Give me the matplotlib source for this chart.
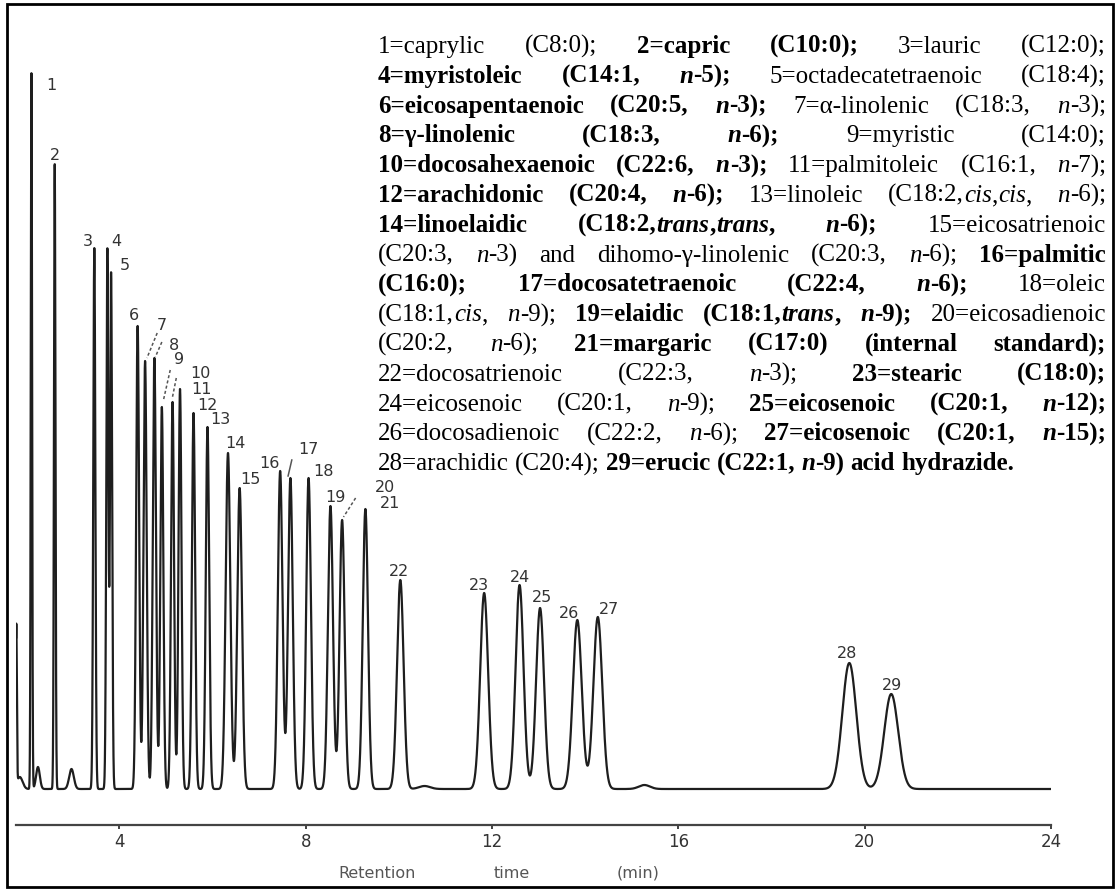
import numpy as np
import matplotlib
matplotlib.use('Agg')
import matplotlib.pyplot as plt
from matplotlib.transforms import IdentityTransform
from matplotlib.font_manager import FontProperties
from matplotlib.patches import Rectangle

# peaks 1..29: retention time (min), height above baseline, peak sigma (min)
peak_ids = list(range(1, 30))
peak_rt = [2.11, 2.61, 3.46, 3.74, 3.82, 4.39, 4.55, 4.75, 4.91, 5.14,
           5.30, 5.59, 5.89, 6.33, 6.58, 7.45, 7.67, 8.06, 8.53, 8.78,
           9.28, 10.03, 11.83, 12.59, 13.03, 13.83, 14.27, 19.67, 20.57]
peak_height = [716, 625, 541, 540, 516, 463, 428, 431, 382, 387,
               400, 376, 362, 336, 301, 318, 311, 311, 283, 269,
               280, 209, 196, 204, 181, 169, 172, 126, 95]
peak_sigma = [0.014, 0.016, 0.022, 0.022, 0.022, 0.032, 0.034, 0.034, 0.032, 0.032,
              0.032, 0.034, 0.036, 0.05, 0.05, 0.05, 0.05, 0.05, 0.054, 0.054,
              0.056, 0.07, 0.085, 0.085, 0.085, 0.095, 0.095, 0.15, 0.15]

# small unlabelled bumps (solvent front, early artefacts, late bumps)
minor_rt = [1.785, 1.86, 2.25, 2.97, 10.55, 15.27]
minor_height = [160, 12, 22, 20, 3, 4]
minor_sigma = [0.012, 0.06, 0.04, 0.05, 0.12, 0.12]

# peak number label positions (rt, signal)
label_rt = [2.54, 2.61, 3.31, 3.94, 4.12, 4.31, 4.91, 5.17, 5.28, 5.73,
            5.77, 5.88, 6.16, 6.48, 6.82, 7.22, 8.06, 8.38, 8.63, 9.71,
            9.82, 10.01, 11.71, 12.61, 13.08, 13.65, 14.50, 19.63, 20.58]
label_h = [704, 633, 548, 548, 523, 473, 463, 444, 430, 415,
           400, 384, 370, 346, 310, 326, 340, 318, 292, 302,
           285, 217, 204, 211, 191, 176, 180, 135, 103]

# leader lines from label to peak: (rt0, h0, rt1, h1, dashed)
leaders = [(4.81, 456, 4.59, 431, True), (4.91, 447, 4.77, 432, True),
           (5.09, 419, 4.94, 388, True), (5.22, 411, 5.13, 390, True),
           (7.70, 329, 7.62, 313, False), (9.07, 291, 8.81, 272, True)]

x_ticks = [4, 8, 12, 16, 20, 24]

legend_lines = [
    "1=caprylic (C8:0); *2=capric (C10:0);* 3=lauric (C12:0);",
    "*4=myristoleic (C14:1, _n_-5);* 5=octadecatetraenoic (C18:4);",
    "*6=eicosapentaenoic (C20:5, _n_-3);* 7=α-linolenic (C18:3, _n_-3);",
    "*8=γ-linolenic (C18:3, _n_-6);* 9=myristic (C14:0);",
    "*10=docosahexaenoic (C22:6, _n_-3);* 11=palmitoleic (C16:1, _n_-7);",
    "*12=arachidonic (C20:4, _n_-6);* 13=linoleic (C18:2,_cis_,_cis_, _n_-6);",
    "*14=linoelaidic (C18:2,_trans_,_trans_, _n_-6);* 15=eicosatrienoic",
    "(C20:3, _n_-3) and dihomo-γ-linolenic (C20:3, _n_-6); *16=palmitic*",
    "*(C16:0); 17=docosatetraenoic (C22:4, _n_-6);* 18=oleic",
    "(C18:1,_cis_, _n_-9); *19=elaidic (C18:1,_trans_, _n_-9);* 20=eicosadienoic",
    "(C20:2, _n_-6); *21=margaric (C17:0) (internal standard);*",
    "22=docosatrienoic (C22:3, _n_-3); *23=stearic (C18:0);*",
    "24=eicosenoic (C20:1, _n_-9); *25=eicosenoic (C20:1, _n_-12);*",
    "26=docosadienoic (C22:2, _n_-6); *27=eicosenoic (C20:1, _n_-15);*",
    "28=arachidic (C20:4); *29=erucic (C22:1, _n_-9) acid hydrazide.*",
]

W, H = 1115, 892
fig = plt.figure(figsize=(W / 100, H / 100), dpi=100)

# chromatogram
t = np.linspace(1.78, 24.0, 24000)
sig = np.zeros_like(t)
for rt, h, s in zip(peak_rt + minor_rt, peak_height + minor_height, peak_sigma + minor_sigma):
    sig += h * np.exp(-0.5 * ((t - rt) / s) ** 2)

ax = fig.add_axes([15.6 / W, (H - 825) / H, (1051 - 15.6) / W, 785 / H])
ax.plot(t, sig, color='#1e1e1e', lw=1.6)
ax.set_xlim(1.77, 24.0)
ax.set_ylim(-36, 749)
for s in ['left', 'top', 'right']:
    ax.spines[s].set_visible(False)
ax.spines['bottom'].set_color('#444444')
ax.spines['bottom'].set_linewidth(1.6)
ax.set_yticks([])
ax.set_xticks(x_ticks)
ax.set_xticklabels([str(v) for v in x_ticks])
ax.tick_params(axis='x', direction='out', length=3, width=1.3, pad=3,
               labelsize=12, colors='#333333')
ax.patch.set_visible(False)

for n, lx, ly in zip(peak_ids, label_rt, label_h):
    ax.text(lx, ly, str(n), ha='center', va='center', fontsize=11.5,
            color='#333333', family='DejaVu Sans')
for x0, y0, x1, y1, dashed in leaders:
    ax.plot([x0, x1], [y0, y1], color='#555555', lw=1.1,
            ls=(0, (2, 1.5)) if dashed else '-')

for word, xc in zip(["Retention", "time", "(min)"], [377, 512, 638]):
    fig.text(xc / W, 1 - 873 / H, word, ha='center', va='center',
             fontsize=11.5, color='#555555', family='DejaVu Sans')


# justified caption block
def parse(line):
    words, cur, buf = [], [], ''
    bold = ital = False
    for ch in line:
        if ch in '*_':
            if buf:
                cur.append((buf, bold, ital))
                buf = ''
            if ch == '*':
                bold = not bold
            else:
                ital = not ital
        elif ch == ' ':
            if buf:
                cur.append((buf, bold, ital))
                buf = ''
            if cur:
                words.append(cur)
                cur = []
        else:
            buf += ch
    if buf:
        cur.append((buf, bold, ital))
    if cur:
        words.append(cur)
    return words


fsize = 18
renderer = fig.canvas.get_renderer()
x_left, x_right = 378, 1106
space = 0.25 * fsize * 100 / 72
for i, line in enumerate(legend_lines):
    words = parse(line)
    placed = []
    widths = []
    for w in words:
        pieces = []
        ww = 0
        for txt, b, it in w:
            fp = FontProperties(family='Liberation Serif', size=fsize,
                                weight='bold' if b else 'normal',
                                style='italic' if it else 'normal')
            tobj = fig.text(0, 0, txt, fontproperties=fp, transform=IdentityTransform(),
                            ha='left', va='baseline', color='black')
            pw = tobj.get_window_extent(renderer).width
            pieces.append((tobj, ww))
            ww += pw
        placed.append(pieces)
        widths.append(ww)
    if i < len(legend_lines) - 1 and len(words) > 1:
        gap = (x_right - x_left - sum(widths)) / (len(words) - 1)
    else:
        gap = space
    y_base = H - (45 + 29.8 * i + 8)
    x = x_left
    for pieces, ww in zip(placed, widths):
        for tobj, off in pieces:
            tobj.set_position((x + off, y_base))
        x += ww + gap

fig.add_artist(Rectangle((7, 5), 1106, 883, transform=IdentityTransform(),
                         fill=False, lw=2, edgecolor='black'))

fig.savefig('out.png', dpi=100)
